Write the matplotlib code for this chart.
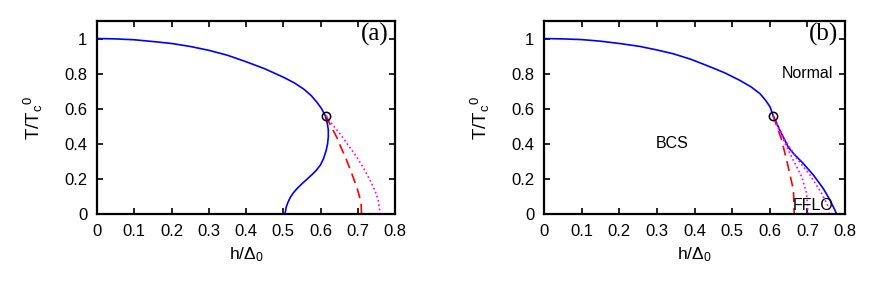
import matplotlib
matplotlib.use("Agg")
import matplotlib.pyplot as plt

plt.rcParams['font.family'] = ['Liberation Sans', 'DejaVu Sans']
plt.rcParams['mathtext.fontset'] = 'custom'
plt.rcParams['mathtext.rm'] = 'Liberation Sans'
plt.rcParams['mathtext.it'] = 'Liberation Sans:italic'

# Panel (a)
a_blue_h = [0.0, 0.05, 0.1, 0.15, 0.2, 0.25, 0.3, 0.35, 0.4, 0.45, 0.5, 0.53, 0.555, 0.575, 0.59, 0.603,
            0.613, 0.618, 0.621, 0.621, 0.619, 0.615, 0.608, 0.6, 0.589, 0.576, 0.562, 0.549, 0.537,
            0.527, 0.519, 0.513, 0.508, 0.506, 0.505]
a_blue_T = [1.0, 0.998, 0.993, 0.983, 0.972, 0.955, 0.933, 0.905, 0.868, 0.828, 0.78, 0.747, 0.712, 0.675,
            0.638, 0.6, 0.56, 0.52, 0.48, 0.44, 0.40, 0.36, 0.315, 0.28, 0.25, 0.222, 0.195, 0.17, 0.145,
            0.12, 0.095, 0.068, 0.04, 0.015, 0.0]
a_red_h = [0.615, 0.628, 0.643, 0.657, 0.67, 0.684, 0.697, 0.704, 0.709, 0.71]
a_red_T = [0.56, 0.5, 0.44, 0.37, 0.307, 0.23, 0.155, 0.105, 0.06, 0.0]
a_mag_h = [0.615, 0.632, 0.652, 0.675, 0.697, 0.716, 0.733, 0.746, 0.755, 0.76]
a_mag_T = [0.56, 0.51, 0.458, 0.39, 0.326, 0.26, 0.193, 0.135, 0.08, 0.0]
a_tc_h = [0.614]
a_tc_T = [0.56]

# Panel (b)
b_blue_h = [0.0, 0.05, 0.1, 0.15, 0.2, 0.255, 0.3, 0.344, 0.39, 0.432, 0.48, 0.521, 0.55, 0.574, 0.59,
            0.601, 0.609, 0.627, 0.649, 0.663, 0.689, 0.716, 0.742, 0.76, 0.778]
b_blue_T = [1.0, 0.998, 0.994, 0.985, 0.972, 0.955, 0.935, 0.913, 0.882, 0.847, 0.805, 0.761, 0.725, 0.686,
            0.645, 0.61, 0.56, 0.477, 0.382, 0.345, 0.288, 0.222, 0.146, 0.08, 0.0]
b_red_h = [0.609, 0.632, 0.649, 0.663, 0.665]
b_red_T = [0.56, 0.42, 0.269, 0.136, 0.0]
b_mag1_h = [0.609, 0.632, 0.658, 0.685, 0.698, 0.702]
b_mag1_T = [0.56, 0.44, 0.326, 0.212, 0.117, 0.0]
b_mag2_h = [0.609, 0.635, 0.672, 0.707, 0.738, 0.756, 0.758]
b_mag2_T = [0.56, 0.44, 0.316, 0.222, 0.117, 0.04, 0.0]
b_tc_h = [0.609]
b_tc_T = [0.56]

xticks = [0, 0.1, 0.2, 0.3, 0.4, 0.5, 0.6, 0.7, 0.8]
xticklabels = ['0', '0.1', '0.2', '0.3', '0.4', '0.5', '0.6', '0.7', '0.8']
yticks = [0, 0.2, 0.4, 0.6, 0.8, 1.0]
yticklabels = ['0', '0.2', '0.4', '0.6', '0.8', '1']

fig = plt.figure(figsize=(8.72, 2.87), dpi=100)
ax1 = fig.add_axes([97/872, 1-214/287, 298/872, 193/287])
ax2 = fig.add_axes([544/872, 1-214/287, 301/872, 193/287])

def style(ax, tag):
    ax.set_xlim(0, 0.8)
    ax.set_ylim(0, 1.1)
    ax.set_xticks(xticks)
    ax.set_xticklabels(xticklabels)
    ax.set_yticks(yticks)
    ax.set_yticklabels(yticklabels)
    ax.tick_params(direction='in', top=True, right=True, length=4, width=1.2,
                   labelsize=12, pad=7)
    for s in ax.spines.values():
        s.set_linewidth(1.6)
    ax.set_xlabel(r'h/$\Delta_0$', fontsize=12.5, labelpad=5)
    ax.set_ylabel(r'T/T$_\mathrm{c}$${}^{\mathrm{0}}$', fontsize=13.5, labelpad=14)
    ax.text(0.782, 1.025, tag, fontsize=18, family='Liberation Serif', ha='right', va='center')

ax1.plot(a_blue_h, a_blue_T, color='#0000ff', lw=1.2)
ax1.plot(a_red_h, a_red_T, color='#ff0000', lw=1.2, dashes=(6, 3.5))
ax1.plot(a_mag_h, a_mag_T, color='#ff00ff', lw=1.2, ls=(0, (1, 1.6)))
ax1.plot(a_tc_h, a_tc_T, 'o', mfc='none', mec='black', ms=6, mew=1.1)
style(ax1, '(a)')

ax2.plot(b_blue_h, b_blue_T, color='#0000ff', lw=1.2)
ax2.plot(b_red_h, b_red_T, color='#ff0000', lw=1.2, dashes=(6, 3.5))
ax2.plot(b_mag1_h, b_mag1_T, color='#ff00ff', lw=1.2, ls=(0, (1, 1.6)))
ax2.plot(b_mag2_h, b_mag2_T, color='#ff00ff', lw=1.2, ls=(0, (1, 1.6)))
ax2.plot(b_tc_h, b_tc_T, 'o', mfc='none', mec='black', ms=6, mew=1.1)
ax2.text(0.70, 0.80, 'Normal', fontsize=11.5, ha='center', va='center')
ax2.text(0.34, 0.40, 'BCS', fontsize=11.5, ha='center', va='center')
ax2.text(0.715, 0.005, 'FFLO', fontsize=11.5, ha='center', va='bottom')
style(ax2, '(b)')

fig.savefig('out.png', dpi=100)
